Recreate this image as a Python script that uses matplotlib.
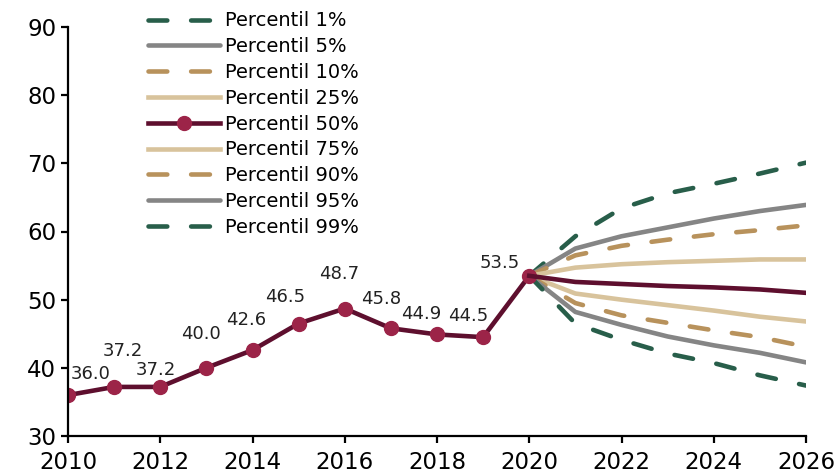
import matplotlib
matplotlib.use("Agg")
import matplotlib.pyplot as plt

plt.rcParams['font.family'] = ['DejaVu Sans']

hist_years = [2010, 2011, 2012, 2013, 2014, 2015, 2016, 2017, 2018, 2019, 2020]
hist_values = [36.0, 37.2, 37.2, 40.0, 42.6, 46.5, 48.7, 45.8, 44.9, 44.5, 53.5]

fan_years = [2020, 2021, 2022, 2023, 2024, 2025, 2026]
p1 = [53.5, 46.5, 44.1, 42.1, 40.7, 38.9, 37.4]
p5 = [53.5, 48.2, 46.3, 44.6, 43.3, 42.2, 40.8]
p10 = [53.5, 49.5, 47.7, 46.6, 45.5, 44.5, 43.1]
p25 = [53.5, 50.9, 50.0, 49.2, 48.4, 47.5, 46.8]
p50 = [53.5, 52.6, 52.3, 52.0, 51.8, 51.5, 51.0]
p75 = [53.5, 54.7, 55.2, 55.5, 55.7, 55.9, 55.9]
p90 = [53.5, 56.5, 57.9, 58.8, 59.6, 60.2, 60.9]
p95 = [53.5, 57.5, 59.3, 60.6, 61.9, 63.0, 63.9]
p99 = [53.5, 59.3, 63.4, 65.6, 67.0, 68.5, 70.1]

labels = ["Percentil 1%", "Percentil 5%", "Percentil 10%", "Percentil 25%",
          "Percentil 50%", "Percentil 75%", "Percentil 90%", "Percentil 95%",
          "Percentil 99%"]

# label offsets in pixels (style)
label_offsets = [(23, 21), (9, 36), (-4, 17), (-5, 34), (-6, 30), (-13, 27),
                 (-6, 35), (-10, 29), (-16, 20), (-15, 21), (-30, 13)]

GREEN = "#285E4A"
GRAY = "#858585"
TAN = "#B8925C"
LTAN = "#D8C39C"
MAROON = "#5E0F2E"
MARK = "#9C2448"

fig = plt.figure(figsize=(8.37, 4.76), dpi=100)
ax = fig.add_axes([68/837, 40/476, (806-68)/837, (436-27)/476])

lw = 3.3
dash = dict(dashes=(4.1, 5.2), dash_capstyle='round')
h = {}
h[8], = ax.plot(fan_years, p99, color=GREEN, lw=lw, **dash)
h[7], = ax.plot(fan_years, p95, color=GRAY, lw=lw, solid_capstyle='round')
h[6], = ax.plot(fan_years, p90, color=TAN, lw=lw, **dash)
h[5], = ax.plot(fan_years, p75, color=LTAN, lw=lw)
h[3], = ax.plot(fan_years, p25, color=LTAN, lw=lw)
h[2], = ax.plot(fan_years, p10, color=TAN, lw=lw, **dash)
h[1], = ax.plot(fan_years, p5, color=GRAY, lw=lw, solid_capstyle='round')
h[0], = ax.plot(fan_years, p1, color=GREEN, lw=lw, **dash)
ax.plot(fan_years, p50, color=MAROON, lw=lw, zorder=3)

h[4], = ax.plot(hist_years, hist_values, color=MAROON, lw=lw, marker='o',
                markersize=10, markerfacecolor=MARK, markeredgecolor=MARK,
                zorder=2)

for x, y, off in zip(hist_years, hist_values, label_offsets):
    ax.annotate(f"{y:.1f}", (x, y), xytext=off, textcoords='offset pixels',
                ha='center', va='center', fontsize=13, color='#222222')

ax.set_xlim(2010, 2026)
ax.set_ylim(30, 90)
ax.set_xticks(range(2010, 2027, 2))
ax.set_yticks(range(30, 91, 10))
for s in ['top', 'right']:
    ax.spines[s].set_visible(False)
for s in ['left', 'bottom']:
    ax.spines[s].set_linewidth(1.6)
ax.tick_params(axis='both', labelsize=16.5, width=1.6, length=5, color='black')
ax.tick_params(axis='x', pad=6)

handles = [h[i] for i in range(9)]
leg = ax.legend(handles, labels, loc='upper left', bbox_to_anchor=(0.108, 1.038),
                frameon=False, fontsize=14, handlelength=3.7,
                handletextpad=0.3, labelspacing=0.35, borderaxespad=0,
                borderpad=0)

fig.savefig("out.png", dpi=100)
